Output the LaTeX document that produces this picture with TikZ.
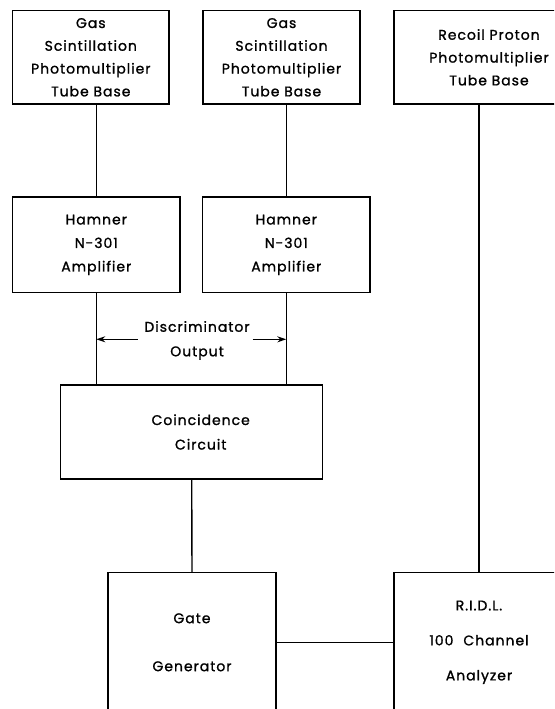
\documentclass[tikz,border=0pt]{standalone}
\usepackage{fontspec}
\setmainfont{Poppins}[LetterSpace=7, FakeBold=1.2]
\usetikzlibrary{arrows.meta}
\tikzset{
  blk/.style={draw, line width=1.4pt, align=center, inner sep=0pt,
    font=\fontsize{14}{22.8}\selectfont},
  wire/.style={line width=1.4pt},
  arr/.style={line width=1.4pt, -{Stealth[length=9pt,width=6pt]}},
  lbl/.style={align=center, inner sep=0pt, font=\fontsize{14}{24.5}\selectfont}
}
\begin{document}
\begin{tikzpicture}[x=1pt,y=-1pt]
\useasboundingbox (0,0) rectangle (554,709);
\clip (0,0) rectangle (554,709);
% top row
\node[blk, minimum width=156.3pt, minimum height=93.3pt] (top1) at (90.8,57.3)
  {Gas\\Scintillation\\Photomultiplier\\Tube Base};
\node[blk, minimum width=157pt, minimum height=93.3pt] (top2) at (281.5,57.3)
  {Gas\\Scintillation\\Photomultiplier\\Tube Base};
\node[blk, minimum width=190pt, minimum height=93.3pt] (top3) at (489,57.3)
  {Recoil Proton\\Photomultiplier\\Tube Base};
% amplifiers
\node[blk, minimum width=167.3pt, minimum height=95.7pt,
  font=\fontsize{14}{23.5}\selectfont] (amp1) at (96.3,244.9)
  {Hamner\\N-301\\Amplifier};
\node[blk, minimum width=167.3pt, minimum height=95.7pt,
  font=\fontsize{14}{23.5}\selectfont] (amp2) at (286.3,244.9)
  {Hamner\\N-301\\Amplifier};
% discriminator label
\node[lbl] (disc) at (197,340.5) {Discriminator\\Output};
% coincidence
\node[blk, minimum width=262pt, minimum height=94pt,
  font=\fontsize{14}{24.5}\selectfont] (coinc) at (191.7,432)
  {\hspace*{18pt}Coincidence\\\hspace*{18pt}Circuit};
% bottom row
\node[blk, minimum width=168pt, minimum height=139.3pt,
  font=\fontsize{14}{48}\selectfont] (gate) at (192,642.3)
  {Gate\\Generator};
\node[blk, minimum width=170pt, minimum height=139.3pt,
  font=\fontsize{14}{35}\selectfont] (ridl) at (479,642.3)
  {R.I.D.L.\\100\hspace{10pt}Channel\\Analyzer};
% connectors
\draw[wire] (amp1.north |- top1.south) -- (amp1.north);
\draw[wire] (amp2.north |- top2.south) -- (amp2.north);
\draw[wire] (ridl.north |- top3.south) -- (ridl.north);
\draw[wire] (amp1.south) -- (amp1.south |- coinc.north);
\draw[wire] (amp2.south) -- (amp2.south |- coinc.north);
\draw[wire] (coinc.south) -- (gate.north);
\draw[wire] (gate.east) -- (ridl.west);
\coordinate (al) at (137.7,339.3);
\coordinate (ar) at (252.7,339.3);
\draw[arr] (al) -- (al -| amp1.south);
\draw[arr] (ar) -- (ar -| amp2.south);
\end{tikzpicture}
\end{document}
